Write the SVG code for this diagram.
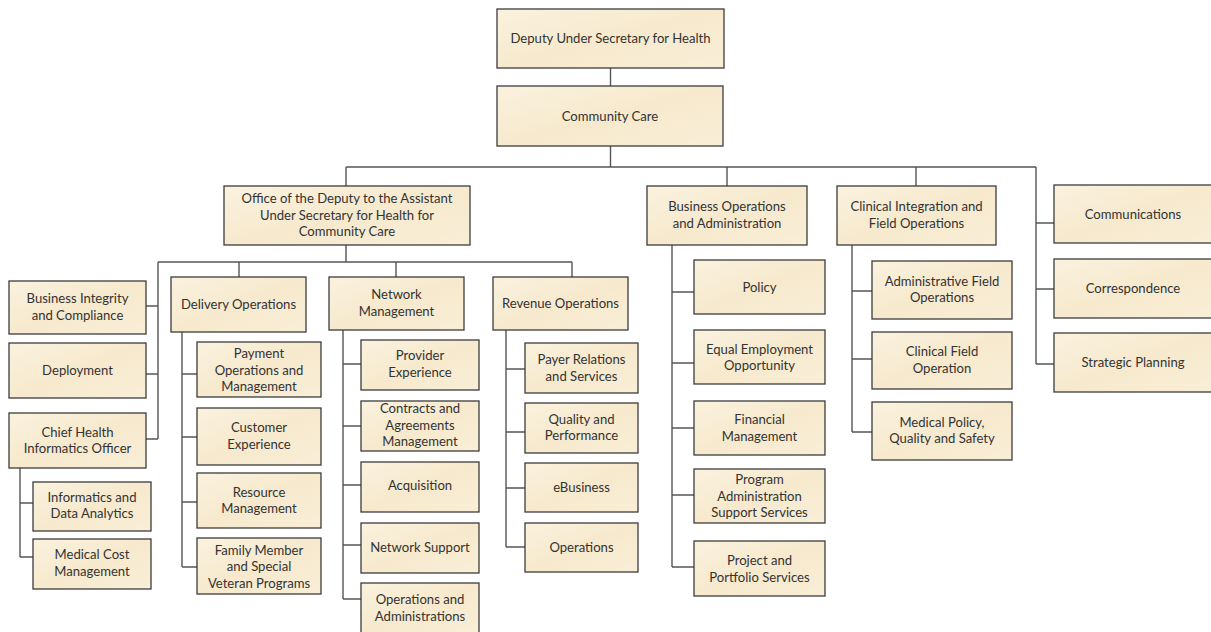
<svg xmlns="http://www.w3.org/2000/svg" width="1211" height="632" viewBox="0 0 1211 632">
<defs>
<linearGradient id="parch" x1="0" y1="0" x2="1" y2="1">
<stop offset="0" stop-color="#fbf2df"/>
<stop offset="0.5" stop-color="#f6e9cd"/>
<stop offset="1" stop-color="#f9eed7"/>
</linearGradient>
</defs>
<style>
.box{fill:url(#parch);stroke:#3c3c3c;stroke-width:1.3}
.t{font-family:Lato,"Open Sans","Liberation Sans",sans-serif;font-size:13.1px;fill:#333333;text-anchor:middle}
.c{fill:none;stroke:#555;stroke-width:1.4}
</style>
<rect width="1211" height="632" fill="#ffffff"/>
<g id="connectors" class="c">
<path d="M610.5 68V86M610.5 146V167M346 167H1036M346 167V186M727 167V186M916 167V186M1036 167V364"/>
<path d="M1036 223H1054M1036 289H1054M1036 364H1054"/>
<path d="M346 245V262M158 262H572M239 262V277M396 262V277M572 262V277"/>
<path d="M158 262V439M146 306H158M146 374H158M146 439H158"/>
<path d="M20 468V557M20 503H33M20 557H33"/>
<path d="M182 332V567M182 374H197M182 437H197M182 502H197M182 567H197"/>
<path d="M343 330V599M343 364H361M343 426H361M343 485H361M343 545H361M343 599H361"/>
<path d="M506 330V547M506 369H525M506 432H525M506 488H525M506 547H525"/>
<path d="M672 245V567M672 292H694M672 363H694M672 428H694M672 495H694M672 567H694"/>
<path d="M852 245V432M852 291H872M852 359H872M852 432H872"/>
</g>
<g id="deputy"><rect class="box" x="497" y="9" width="227" height="59"/><text class="t" x="610.5" y="43">Deputy Under Secretary for Health</text></g>
<g id="community-care"><rect class="box" x="497" y="86" width="226" height="60"/><text class="t" x="610" y="120.5">Community Care</text></g>
<g id="office"><rect class="box" x="224" y="186" width="246" height="59"/><text class="t" x="347" y="203">Office of the Deputy to the Assistant</text><text class="t" x="347" y="219.5">Under Secretary for Health for</text><text class="t" x="347" y="236">Community Care</text></g>
<g id="business-operations"><rect class="box" x="647" y="186" width="160" height="59"/><text class="t" x="727" y="211">Business Operations</text><text class="t" x="727" y="227.5">and Administration</text></g>
<g id="clinical-integration"><rect class="box" x="837" y="186" width="159" height="59"/><text class="t" x="916.5" y="211">Clinical Integration and</text><text class="t" x="916.5" y="227.5">Field Operations</text></g>
<g id="communications"><rect class="box" x="1054" y="185" width="160" height="58"/><text class="t" x="1133" y="218.5">Communications</text></g>
<g id="correspondence"><rect class="box" x="1054" y="259" width="160" height="59"/><text class="t" x="1133" y="293">Correspondence</text></g>
<g id="strategic-planning"><rect class="box" x="1054" y="333" width="160" height="59"/><text class="t" x="1133" y="367">Strategic Planning</text></g>
<g id="business-integrity"><rect class="box" x="9" y="281" width="137" height="53"/><text class="t" x="77.5" y="303">Business Integrity</text><text class="t" x="77.5" y="319.5">and Compliance</text></g>
<g id="deployment"><rect class="box" x="9" y="343" width="137" height="55"/><text class="t" x="77.5" y="375">Deployment</text></g>
<g id="chief-health"><rect class="box" x="9" y="413" width="137" height="55"/><text class="t" x="77.5" y="436.5">Chief Health</text><text class="t" x="77.5" y="453">Informatics Officer</text></g>
<g id="informatics"><rect class="box" x="33" y="482" width="118" height="49"/><text class="t" x="92" y="501.5">Informatics and</text><text class="t" x="92" y="518">Data Analytics</text></g>
<g id="medical-cost"><rect class="box" x="33" y="539" width="118" height="50"/><text class="t" x="92" y="559">Medical Cost</text><text class="t" x="92" y="575.5">Management</text></g>
<g id="delivery-operations"><rect class="box" x="171" y="277" width="135" height="55"/><text class="t" x="238.5" y="309">Delivery Operations</text></g>
<g id="payment"><rect class="box" x="197" y="342" width="124" height="55"/><text class="t" x="259" y="358">Payment</text><text class="t" x="259" y="374.5">Operations and</text><text class="t" x="259" y="391">Management</text></g>
<g id="customer-experience"><rect class="box" x="197" y="408" width="124" height="57"/><text class="t" x="259" y="432">Customer</text><text class="t" x="259" y="448.5">Experience</text></g>
<g id="resource"><rect class="box" x="197" y="473" width="124" height="55"/><text class="t" x="259" y="496.5">Resource</text><text class="t" x="259" y="513">Management</text></g>
<g id="family"><rect class="box" x="197" y="538" width="124" height="56"/><text class="t" x="259" y="554.5">Family Member</text><text class="t" x="259" y="571">and Special</text><text class="t" x="259" y="587.5">Veteran Programs</text></g>
<g id="network-management"><rect class="box" x="329" y="277" width="135" height="53"/><text class="t" x="396.5" y="299">Network</text><text class="t" x="396.5" y="315.5">Management</text></g>
<g id="provider"><rect class="box" x="361" y="340" width="118" height="50"/><text class="t" x="420" y="360">Provider</text><text class="t" x="420" y="376.5">Experience</text></g>
<g id="contracts"><rect class="box" x="361" y="401" width="118" height="50"/><text class="t" x="420" y="413">Contracts and</text><text class="t" x="420" y="429.5">Agreements</text><text class="t" x="420" y="446">Management</text></g>
<g id="acquisition"><rect class="box" x="361" y="462" width="118" height="50"/><text class="t" x="420" y="489.5">Acquisition</text></g>
<g id="network-support"><rect class="box" x="361" y="523" width="118" height="50"/><text class="t" x="420" y="552">Network Support</text></g>
<g id="operations-administrations"><rect class="box" x="361" y="583" width="118" height="50"/><text class="t" x="420" y="604">Operations and</text><text class="t" x="420" y="620.5">Administrations</text></g>
<g id="revenue-operations"><rect class="box" x="493" y="277" width="135" height="53"/><text class="t" x="560.5" y="307.5">Revenue Operations</text></g>
<g id="payer-relations"><rect class="box" x="525" y="343" width="113" height="50"/><text class="t" x="581.5" y="364">Payer Relations</text><text class="t" x="581.5" y="380.5">and Services</text></g>
<g id="quality-performance"><rect class="box" x="525" y="403" width="113" height="50"/><text class="t" x="581.5" y="423.5">Quality and</text><text class="t" x="581.5" y="440">Performance</text></g>
<g id="ebusiness"><rect class="box" x="525" y="463" width="113" height="49"/><text class="t" x="581.5" y="492">eBusiness</text></g>
<g id="operations"><rect class="box" x="525" y="523" width="113" height="49"/><text class="t" x="581.5" y="552">Operations</text></g>
<g id="policy"><rect class="box" x="694" y="260" width="131" height="54"/><text class="t" x="759.5" y="292">Policy</text></g>
<g id="equal-employment"><rect class="box" x="694" y="330" width="131" height="54"/><text class="t" x="759.5" y="353.5">Equal Employment</text><text class="t" x="759.5" y="370">Opportunity</text></g>
<g id="financial-management"><rect class="box" x="694" y="401" width="131" height="54"/><text class="t" x="759.5" y="424">Financial</text><text class="t" x="759.5" y="440.5">Management</text></g>
<g id="program-administration"><rect class="box" x="694" y="469" width="131" height="54"/><text class="t" x="759.5" y="484">Program</text><text class="t" x="759.5" y="500.5">Administration</text><text class="t" x="759.5" y="517">Support Services</text></g>
<g id="project-portfolio"><rect class="box" x="694" y="541" width="131" height="55"/><text class="t" x="759.5" y="565">Project and</text><text class="t" x="759.5" y="581.5">Portfolio Services</text></g>
<g id="administrative-field"><rect class="box" x="872" y="261" width="140" height="58"/><text class="t" x="942" y="285.5">Administrative Field</text><text class="t" x="942" y="302">Operations</text></g>
<g id="clinical-field"><rect class="box" x="872" y="332" width="140" height="57"/><text class="t" x="942" y="356">Clinical Field</text><text class="t" x="942" y="372.5">Operation</text></g>
<g id="medical-policy"><rect class="box" x="872" y="402" width="140" height="58"/><text class="t" x="942" y="426.5">Medical Policy,</text><text class="t" x="942" y="443">Quality and Safety</text></g>
</svg>
